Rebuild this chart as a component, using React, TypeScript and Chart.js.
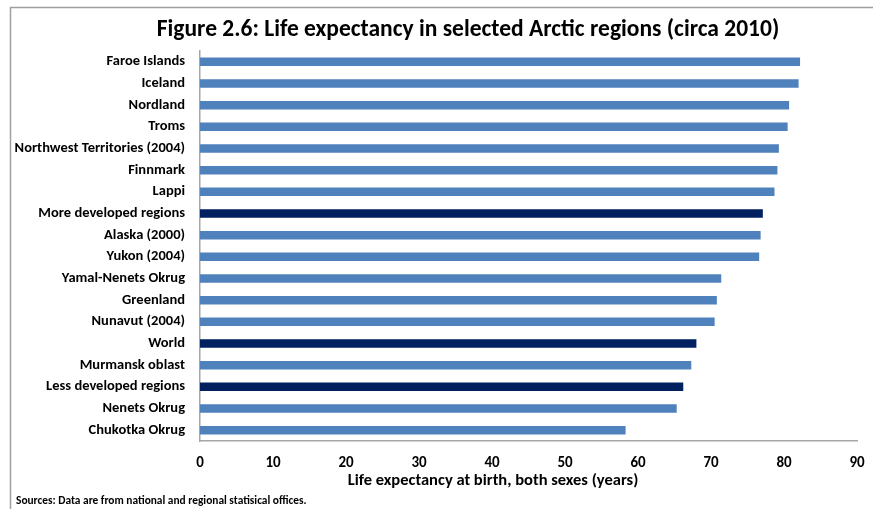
import React, { useEffect, useRef } from "react";
import { Chart, registerables } from "chart.js";

Chart.register(...registerables);

const categories = [
  "Faroe Islands",
  "Iceland",
  "Nordland",
  "Troms",
  "Northwest Territories (2004)",
  "Finnmark",
  "Lappi",
  "More developed regions",
  "Alaska (2000)",
  "Yukon (2004)",
  "Yamal-Nenets Okrug",
  "Greenland",
  "Nunavut (2004)",
  "World",
  "Murmansk oblast",
  "Less developed regions",
  "Nenets Okrug",
  "Chukotka Okrug",
];

const lifeExpectancy = [
  82.2, 82.0, 80.7, 80.5, 79.3, 79.1, 78.7, 77.1, 76.8, 76.6, 71.4, 70.8, 70.5, 68.0, 67.3, 66.2, 65.3, 58.3,
];

const aggregateRegions = ["More developed regions", "World", "Less developed regions"];

const xTicks = [0, 10, 20, 30, 40, 50, 60, 70, 80, 90];

const titleText = "Figure 2.6: Life expectancy in selected Arctic regions (circa 2010)";
const xAxisTitle = "Life expectancy at birth, both sexes (years)";
const sourceText = "Sources: Data are from national and regional statisical offices.";

const FONT = "Carlito, Calibri, Lato, 'Open Sans', sans-serif";
const LIGHT = "#4f81bd";
const DARK = "#002060";
const AXIS_GRAY = "#a6a6a6";

const framePlugin = {
  id: "frame",
  beforeDraw(chart: any) {
    const ctx = chart.ctx;
    ctx.save();
    ctx.fillStyle = "#ffffff";
    ctx.fillRect(0, 0, chart.width, chart.height);
    ctx.strokeStyle = "#a0a0a0";
    ctx.lineWidth = 1.5;
    ctx.beginPath();
    ctx.moveTo(10.5, chart.height);
    ctx.lineTo(10.5, 7.5);
    ctx.lineTo(chart.width, 7.5);
    ctx.stroke();
    ctx.restore();
  },
  afterDraw(chart: any) {
    const ctx = chart.ctx;
    ctx.save();
    ctx.fillStyle = "#000000";
    ctx.textBaseline = "middle";
    ctx.textAlign = "center";
    ctx.font = `bold 23.5px ${FONT}`;
    ctx.fillText(titleText, 468, 30);
    ctx.font = `bold 16.5px ${FONT}`;
    ctx.fillText(xAxisTitle, 493, 481);
    ctx.textAlign = "left";
    ctx.font = `bold 11.4px ${FONT}`;
    ctx.fillText(sourceText, 16, 501);
    ctx.restore();
  },
};

export default function App() {
  const canvasRef = useRef<HTMLCanvasElement | null>(null);

  useEffect(() => {
    const canvas = canvasRef.current;
    if (!canvas) return;
    const colors = categories.map((c) => (aggregateRegions.includes(c) ? DARK : LIGHT));
    const chart = new Chart(canvas, {
      type: "bar",
      data: {
        labels: categories,
        datasets: [
          {
            data: lifeExpectancy,
            backgroundColor: colors,
            borderWidth: 0,
            barPercentage: 0.39,
            categoryPercentage: 1,
          },
        ],
      },
      plugins: [framePlugin],
      options: {
        indexAxis: "y",
        animation: false,
        responsive: false,
        maintainAspectRatio: false,
        devicePixelRatio: 1,
        layout: { padding: { left: 0, right: 16, top: 51, bottom: 20 } },
        plugins: {
          legend: { display: false },
          tooltip: { enabled: false },
          title: { display: false },
        },
        scales: {
          x: {
            type: "linear",
            min: 0,
            max: 90,
            afterBuildTicks(scale: any) {
              scale.ticks = xTicks.map((v) => ({ value: v }));
            },
            afterFit(scale: any) {
              scale.height = 48;
              scale.paddingLeft = 0;
              scale.paddingRight = 0;
            },
            grid: { display: false, drawTicks: false },
            border: { display: true, color: AXIS_GRAY, width: 1.5 },
            ticks: {
              color: "#000000",
              font: { family: FONT, size: 15, weight: "bold" },
              padding: 13,
              maxRotation: 0,
            },
            title: { display: false },
          },
          y: {
            type: "category",
            afterFit(scale: any) {
              scale.width = 200;
              scale.paddingTop = 0;
              scale.paddingBottom = 0;
            },
            grid: { display: false, drawTicks: false },
            border: { display: true, color: AXIS_GRAY, width: 1.5 },
            ticks: {
              color: "#000000",
              font: { family: FONT, size: 14.5, weight: "bold" },
              padding: 15,
              autoSkip: false,
            },
          },
        },
      },
    });
    return () => chart.destroy();
  }, []);

  return (
    <div style={{ position: "fixed", left: 0, top: 0, width: 873, height: 509, background: "#fff" }}>
      <canvas ref={canvasRef} width={873} height={509} style={{ width: 873, height: 509, display: "block" }} />
    </div>
  );
}
